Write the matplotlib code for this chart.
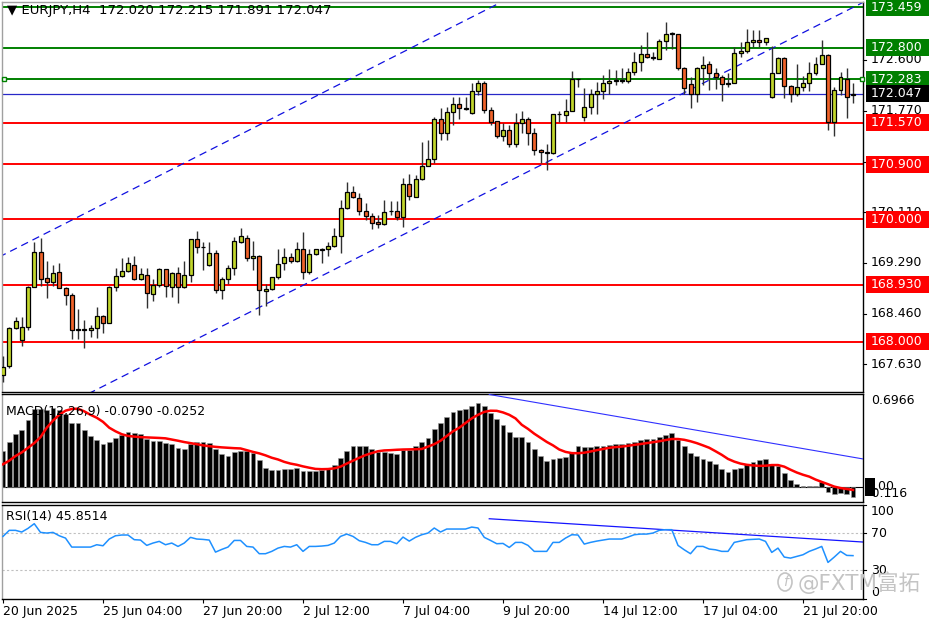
import numpy as np
import matplotlib.pyplot as plt
import matplotlib.transforms as mtransforms
from matplotlib.patches import Rectangle, Ellipse

# ---- EURJPY H4 candles (20 Jun 12:00 .. 23 Jul 00:00) ----
opens = [167.46, 167.60, 168.23, 168.02, 168.24, 168.89, 169.46, 169.04, 168.97, 169.13,
         168.87, 168.77, 168.19, 168.19, 168.19, 168.23, 168.42, 168.31, 168.89, 169.08,
         169.16, 169.26, 169.02, 169.09, 168.78, 168.93, 169.18, 168.90, 169.12, 168.89,
         169.09, 169.67, 169.55, 169.25, 169.45, 168.84, 169.02, 169.21, 169.63, 169.70,
         169.36, 169.40, 168.83, 168.86, 169.05, 169.28, 169.39, 169.32, 169.52, 169.13,
         169.43, 169.50, 169.51, 169.56, 169.73, 170.19, 170.45, 170.34, 170.14, 170.06,
         169.95, 169.92, 170.13, 170.14, 170.03, 170.57, 170.37, 170.66, 170.87, 170.98,
         171.64, 171.41, 171.75, 171.88, 171.81, 171.74, 172.09, 172.22, 171.79, 171.60,
         171.36, 171.46, 171.23, 171.57, 171.63, 171.41, 171.13, 171.09, 171.08, 171.71,
         171.70, 171.77, 172.28, 171.67, 171.83, 172.04, 172.09, 172.22, 172.26, 172.27,
         172.25, 172.40, 172.57, 172.70, 172.64, 172.62, 172.91, 173.04, 173.02, 172.47,
         172.20, 172.05, 172.46, 172.53, 172.38, 172.32, 172.21, 172.23, 172.72, 172.75,
         172.89, 172.93, 172.90, 172.00, 172.39, 172.63, 172.17, 172.04, 172.16, 172.23,
         172.38, 172.54, 172.68, 171.59, 172.11, 172.28, 172.020]
highs = [167.77, 168.24, 168.41, 168.41, 168.91, 169.63, 169.70, 169.31, 169.25, 169.28,
         168.90, 168.79, 168.53, 168.35, 168.27, 168.57, 168.43, 168.91, 169.20, 169.36,
         169.38, 169.40, 169.21, 169.21, 169.02, 169.20, 169.19, 169.13, 169.22, 169.31,
         169.68, 169.80, 169.63, 169.62, 169.50, 169.06, 169.26, 169.71, 169.85, 169.74,
         169.65, 169.41, 168.94, 169.06, 169.51, 169.53, 169.45, 169.62, 169.79, 169.52,
         169.52, 169.53, 169.62, 169.85, 170.31, 170.60, 170.54, 170.42, 170.26, 170.10,
         170.07, 170.31, 170.29, 170.29, 170.67, 170.74, 170.72, 171.26, 171.29, 171.67,
         171.81, 171.83, 171.99, 172.00, 172.00, 172.22, 172.27, 172.26, 171.83, 171.61,
         171.57, 171.54, 171.74, 171.77, 171.67, 171.49, 171.14, 171.23, 171.72, 171.77,
         171.96, 172.42, 172.31, 172.14, 172.12, 172.24, 172.35, 172.45, 172.44, 172.46,
         172.47, 172.73, 172.84, 173.06, 172.73, 172.94, 173.22, 173.06, 173.03, 172.48,
         172.32, 172.49, 172.66, 172.59, 172.46, 172.35, 172.38, 172.81, 172.90, 173.10,
         173.09, 173.08, 172.96, 172.82, 172.64, 172.64, 172.19, 172.53, 172.33, 172.57,
         172.64, 172.92, 172.69, 172.15, 172.41, 172.46, 172.215]
lows = [167.35, 167.57, 168.21, 167.93, 168.19, 168.89, 168.91, 168.72, 168.91, 168.87,
        168.60, 168.04, 168.04, 167.90, 168.07, 168.06, 168.15, 168.30, 168.82, 169.06,
        169.13, 169.01, 169.01, 168.55, 168.67, 168.90, 168.73, 168.73, 168.63, 168.87,
        168.98, 169.44, 169.17, 169.24, 168.79, 168.70, 168.95, 169.09, 169.61, 169.31,
        169.17, 168.44, 168.58, 168.84, 169.02, 169.17, 169.29, 169.30, 169.02, 169.11,
        169.42, 169.28, 169.40, 169.55, 169.45, 170.16, 170.34, 170.07, 169.99, 169.84,
        169.85, 169.91, 170.07, 169.99, 169.87, 170.31, 170.36, 170.64, 170.86, 170.91,
        171.30, 171.30, 171.54, 171.63, 171.78, 171.71, 172.03, 171.74, 171.54, 171.32,
        171.27, 171.17, 171.17, 171.41, 171.21, 171.05, 170.92, 170.80, 171.07, 171.58,
        171.58, 171.76, 172.15, 171.60, 171.71, 171.71, 171.96, 172.05, 172.19, 172.23,
        172.22, 172.35, 172.42, 172.63, 172.60, 172.61, 172.76, 172.77, 172.44, 172.05,
        171.81, 171.92, 172.19, 172.11, 172.12, 171.93, 172.15, 172.22, 172.64, 172.71,
        172.81, 172.81, 172.84, 171.98, 172.38, 171.98, 171.91, 172.01, 172.10, 172.10,
        172.35, 172.53, 171.46, 171.35, 172.03, 171.65, 171.891]
closes = [167.59, 168.23, 168.33, 168.24, 168.89, 169.46, 169.03, 168.97, 169.12, 168.87,
          168.76, 168.19, 168.20, 168.20, 168.22, 168.42, 168.31, 168.89, 169.08, 169.16,
          169.28, 169.02, 169.10, 168.79, 168.93, 169.18, 168.91, 169.12, 168.89, 169.09,
          169.67, 169.55, 169.54, 169.45, 168.84, 169.02, 169.20, 169.64, 169.73, 169.36,
          169.40, 168.84, 168.86, 169.05, 169.27, 169.39, 169.32, 169.52, 169.13, 169.43,
          169.51, 169.52, 169.56, 169.73, 170.19, 170.45, 170.37, 170.14, 170.06, 169.94,
          169.92, 170.12, 170.14, 170.03, 170.57, 170.38, 170.66, 170.87, 170.98, 171.64,
          171.41, 171.75, 171.88, 171.81, 171.80, 172.09, 172.22, 171.79, 171.59, 171.36,
          171.46, 171.23, 171.57, 171.63, 171.41, 171.13, 171.09, 171.08, 171.71, 171.72,
          171.77, 172.28, 172.29, 171.83, 172.04, 172.09, 172.22, 172.26, 172.27, 172.26,
          172.40, 172.57, 172.70, 172.64, 172.63, 172.91, 173.03, 173.02, 172.47, 172.14,
          172.05, 172.46, 172.52, 172.38, 172.32, 172.21, 172.22, 172.72, 172.75, 172.89,
          172.93, 172.90, 172.95, 172.39, 172.63, 172.17, 172.04, 172.16, 172.23, 172.38,
          172.54, 172.68, 171.59, 172.11, 172.32, 172.00, 172.047]

# ---- MACD(12,26,9): histogram and signal ----
macd_main = [0.269, 0.335, 0.396, 0.426, 0.498, 0.586, 0.586, 0.579, 0.591, 0.573,
             0.549, 0.479, 0.479, 0.422, 0.377, 0.352, 0.322, 0.337, 0.366, 0.390,
             0.407, 0.400, 0.396, 0.358, 0.345, 0.345, 0.327, 0.319, 0.289, 0.284,
             0.319, 0.335, 0.335, 0.327, 0.282, 0.247, 0.232, 0.257, 0.269, 0.264,
             0.252, 0.202, 0.143, 0.126, 0.126, 0.131, 0.131, 0.139, 0.120, 0.120,
             0.120, 0.126, 0.143, 0.164, 0.212, 0.269, 0.302, 0.307, 0.302, 0.282,
             0.262, 0.262, 0.252, 0.247, 0.272, 0.272, 0.307, 0.335, 0.366, 0.433,
             0.479, 0.524, 0.558, 0.579, 0.586, 0.606, 0.628, 0.610, 0.554, 0.508,
             0.466, 0.407, 0.373, 0.370, 0.332, 0.282, 0.232, 0.189, 0.206, 0.217,
             0.221, 0.251, 0.307, 0.295, 0.295, 0.302, 0.307, 0.310, 0.319, 0.319,
             0.327, 0.335, 0.352, 0.358, 0.360, 0.375, 0.390, 0.403, 0.352, 0.302,
             0.251, 0.232, 0.209, 0.189, 0.172, 0.131, 0.109, 0.131, 0.143, 0.172,
             0.187, 0.202, 0.206, 0.164, 0.158, 0.105, 0.050, 0.020, 0.002, 0.001,
             0.005, 0.033, -0.038, -0.058, -0.050, -0.058, -0.079]
macd_signal = [0.168, 0.195, 0.230, 0.257, 0.292, 0.327, 0.372, 0.443, 0.496, 0.540,
               0.571, 0.584, 0.586, 0.566, 0.540, 0.518, 0.487, 0.443, 0.416, 0.394,
               0.381, 0.376, 0.372, 0.370, 0.368, 0.366, 0.363, 0.354, 0.345, 0.335,
               0.327, 0.319, 0.310, 0.304, 0.299, 0.295, 0.292, 0.289, 0.287, 0.274,
               0.261, 0.250, 0.235, 0.217, 0.204, 0.186, 0.173, 0.164, 0.152, 0.142,
               0.133, 0.131, 0.132, 0.137, 0.150, 0.173, 0.195, 0.217, 0.237, 0.252,
               0.266, 0.272, 0.274, 0.277, 0.279, 0.280, 0.281, 0.283, 0.301, 0.319,
               0.345, 0.381, 0.416, 0.443, 0.478, 0.513, 0.540, 0.562, 0.571, 0.570,
               0.558, 0.540, 0.513, 0.465, 0.434, 0.398, 0.367, 0.336, 0.310, 0.279,
               0.261, 0.252, 0.251, 0.255, 0.264, 0.274, 0.283, 0.292, 0.297, 0.301,
               0.307, 0.314, 0.320, 0.327, 0.334, 0.341, 0.350, 0.358, 0.358, 0.352,
               0.341, 0.327, 0.310, 0.292, 0.266, 0.239, 0.208, 0.188, 0.173, 0.164,
               0.159, 0.156, 0.157, 0.162, 0.162, 0.150, 0.127, 0.106, 0.089, 0.075,
               0.053, 0.035, 0.018, 0.000, -0.011, -0.018, -0.0252]

# ---- RSI(14) ----
rsi = [66.4, 72.9, 72.9, 71.1, 75.0, 80.0, 70.7, 70.0, 70.7, 67.1,
       64.6, 55.0, 55.0, 55.0, 55.0, 57.5, 56.4, 63.6, 67.1, 67.9,
       67.9, 62.9, 62.5, 56.8, 59.3, 61.1, 57.5, 59.3, 55.7, 59.3,
       65.4, 63.6, 63.2, 62.5, 49.6, 52.5, 55.0, 62.1, 62.1, 55.7,
       55.0, 47.9, 47.9, 50.4, 53.9, 55.7, 55.0, 57.5, 50.4, 55.7,
       55.7, 56.1, 56.8, 59.3, 66.4, 68.9, 66.4, 61.8, 60.0, 57.5,
       57.5, 61.1, 61.1, 58.6, 65.7, 61.4, 65.4, 68.2, 70.0, 75.4,
       71.1, 74.3, 74.3, 74.3, 74.3, 76.4, 75.4, 65.4, 62.1, 58.6,
       58.9, 54.6, 60.0, 60.0, 56.8, 50.4, 50.4, 50.4, 60.0, 60.0,
       64.6, 68.2, 67.9, 58.2, 60.0, 61.4, 62.5, 63.6, 63.6, 63.6,
       65.7, 68.2, 68.9, 68.9, 70.0, 72.9, 73.6, 73.6, 56.8, 52.1,
       47.9, 55.7, 55.7, 52.9, 52.1, 50.4, 50.4, 60.0, 61.4, 62.9,
       63.2, 63.6, 61.1, 49.3, 53.9, 44.3, 43.2, 45.0, 46.8, 50.4,
       52.9, 55.7, 38.6, 44.3, 50.4, 46.1, 45.85]

# horizontal levels and trend lines (bar index, value)
green_levels = [173.459, 172.800, 172.283]
red_levels = [171.570, 170.900, 170.000, 168.930, 168.000]
last_price = 172.047
axis_prices = [172.600, 171.770, 170.940, 170.110, 169.290, 168.460, 167.630]
chan_upper = [(0.0, 169.415), (50.7, 172.04)]
chan_lower = [(15.0, 167.22), (136.85, 173.50)]
macd_trend = [(77.8, 0.693), (137.6, 0.208)]
rsi_trend = [(77.8, 85.3), (137.6, 60.4)]
tick_bars = [0, 16, 32, 48, 64, 80, 96, 112, 128]
tick_texts = ['20 Jun 2025', '25 Jun 04:00', '27 Jun 20:00', '2 Jul 12:00', '7 Jul 04:00',
              '9 Jul 20:00', '14 Jul 12:00', '17 Jul 04:00', '21 Jul 20:00']

W, H = 936, 624
plt.rcParams['font.family'] = ['DejaVu Sans', 'Noto Sans CJK SC']
fig = plt.figure(figsize=(W / 100, H / 100), dpi=100)

def pix_axes(x0, y0, x1, y1):
    return fig.add_axes([x0 / W, 1 - y1 / H, (x1 - x0) / W, (y1 - y0) / H])

ax = pix_axes(2, 2, 863, 392)
ax_m = pix_axes(2, 394, 863, 502)
ax_r = pix_axes(2, 505, 863, 598.5)

n = len(closes)
idx = np.arange(n)
xlim = (-0.16, 137.6)
FS = 9

for a in (ax, ax_m, ax_r):
    a.set_xlim(*xlim)
    a.set_xticks([])
    a.set_yticks([])
    for s in a.spines.values():
        s.set_linewidth(1.0)
        s.set_color('black')
    a.spines['left'].set_color('#a0a0a0')

ax.set_ylim(167.179, 173.545)
ax.spines['top'].set_color('#a0a0a0')

# ---- candles ----
o = np.array(opens); h = np.array(highs); l = np.array(lows); c = np.array(closes)
up = c >= o
ax.vlines(idx, l, h, color='#303030', lw=1, zorder=3)
body_lo = np.minimum(o, c)
body_h = np.maximum(np.abs(c - o), 0.004)
ax.bar(idx[up], body_h[up], bottom=body_lo[up], width=0.64, color='#c2d62c',
       edgecolor='black', linewidth=0.9, zorder=4)
ax.bar(idx[~up], body_h[~up], bottom=body_lo[~up], width=0.64, color='#f0632a',
       edgecolor='black', linewidth=0.9, zorder=4)

# levels
for lv in green_levels:
    ax.axhline(lv, color='#008000', lw=1.4, zorder=2)
for lv in red_levels:
    ax.axhline(lv, color='#ff0000', lw=1.4, zorder=2)
ax.axhline(last_price, color='#2828c8', lw=0.9, zorder=2)
ax.plot([0.2, 137.4], [172.283, 172.283], ls='none', marker='s', ms=3.5,
        mfc='white', mec='#008000', mew=1, clip_on=False, zorder=6)

# channel
for (x0, y0), (x1, y1) in (chan_upper, chan_lower):
    k = (y1 - y0) / (x1 - x0)
    xs = np.array([-5.0, 145.0])
    ax.plot(xs, y0 + k * (xs - x0), color='#1010e0', lw=0.9,
            dashes=(6, 4), zorder=2)

ax.text(0.006, 0.978, '\u25bc EURJPY,H4  172.020 172.215 171.891 172.047',
        transform=ax.transAxes, fontsize=FS + 0.5, va='center', ha='left')

# right price scale
bt = mtransforms.blended_transform_factory(ax.transAxes, ax.transData)
px_unit = 390 / (173.545 - 167.179)
for p in axis_prices:
    ax.text(1 + 8 / 861, p, f'{p:.3f}', transform=bt, fontsize=FS,
            va='center', ha='left', clip_on=False, zorder=5)
    ax.plot([1, 1 + 3 / 861], [p, p], transform=bt, color='black', lw=0.8,
            clip_on=False)

def price_box(p, face, txtcol='white'):
    bh = 17 / px_unit
    ax.add_patch(Rectangle((1 + 3 / 861, p - bh / 2), 63 / 861, bh, transform=bt,
                           facecolor=face, edgecolor='none', clip_on=False, zorder=8))
    ax.text(1 + 8 / 861, p, f'{p:.3f}', transform=bt, fontsize=FS, color=txtcol,
            va='center', ha='left', clip_on=False, zorder=9)

for lv in green_levels:
    price_box(lv, '#008000')
for lv in red_levels:
    price_box(lv, '#ff0000')
price_box(last_price, 'black')

# ---- MACD ----
ax_m.set_ylim(-0.116, 0.6966)
ax_m.bar(idx, macd_main, width=0.75, color='black', edgecolor='#9a9a9a',
         linewidth=0.4, zorder=2)
ax_m.axhline(0, color='black', lw=0.8, zorder=1)
ax_m.plot(idx, macd_signal, color='#ff0000', lw=1.8, zorder=3)
ax_m.plot([p[0] for p in macd_trend], [p[1] for p in macd_trend],
          color='#3030ff', lw=0.8, zorder=3)
ax_m.text(0.005, 0.84, 'MACD(12,26,9) -0.0790 -0.0252', transform=ax_m.transAxes,
          fontsize=FS, va='center', ha='left', zorder=5)
bm = mtransforms.blended_transform_factory(ax_m.transAxes, ax_m.transData)
ax_m.text(1 + 8 / 861, 0.6966, '0.6966', transform=bm, fontsize=FS, va='top',
          ha='left', clip_on=False)
ax_m.text(1 + 4 / 861, -0.055, '-0.116', transform=bm, fontsize=FS, va='center',
          ha='left', clip_on=False)
ax_m.add_patch(Rectangle((1 + 2 / 861, -0.07), 10 / 861, 0.135, transform=bm,
                         facecolor='black', edgecolor='none', clip_on=False, zorder=6))
ax_m.text(1 + 3 / 861, 0.0, '0.00', transform=bm, fontsize=FS, va='center',
          ha='left', clip_on=False, zorder=7)

# ---- RSI ----
ax_r.set_ylim(0, 100)
for lv in (70, 30):
    ax_r.axhline(lv, color='#c0c0c0', lw=0.8, ls=(0, (2, 2)), zorder=1)
ax_r.plot(idx, rsi, color='#1e90ff', lw=1.1, zorder=3)
ax_r.plot([p[0] for p in rsi_trend], [p[1] for p in rsi_trend],
          color='#1414ff', lw=0.9, zorder=2)
ax_r.text(0.005, 0.88, 'RSI(14) 45.8514', transform=ax_r.transAxes, fontsize=FS,
          va='center', ha='left')
br = mtransforms.blended_transform_factory(ax_r.transAxes, ax_r.transData)
for lv, va, yy in ((100, 'top', 100), (70, 'center', 70), (30, 'center', 30), (0, 'bottom', 0)):
    ax_r.text(1 + 8 / 861, yy, str(lv), transform=br, fontsize=FS, va=va,
              ha='left', clip_on=False)
    ax_r.plot([1, 1 + 3 / 861], [lv, lv], transform=br, color='black', lw=0.8,
              clip_on=False)

ax_r.set_xticks(tick_bars)
ax_r.set_xticklabels(tick_texts, fontsize=FS, ha='left')
ax_r.tick_params(axis='x', direction='out', length=3, width=0.8, pad=2)

# watermark
fig.patches.append(Ellipse((785 / W, 1 - 582 / H), 14 / W, 18 / H,
                           transform=fig.transFigure, facecolor='none',
                           edgecolor='#c4c4c4', lw=1.2))
fig.text(785 / W, 1 - 582 / H, 'f', fontsize=10, color='#c4c4c4', ha='center',
         va='center', style='italic')
fig.text(798 / W, 1 - 583 / H, '@FXTM富拓', fontsize=15.5, color='#c4c4c4',
         ha='left', va='center')

fig.savefig('out.png', dpi=100)
